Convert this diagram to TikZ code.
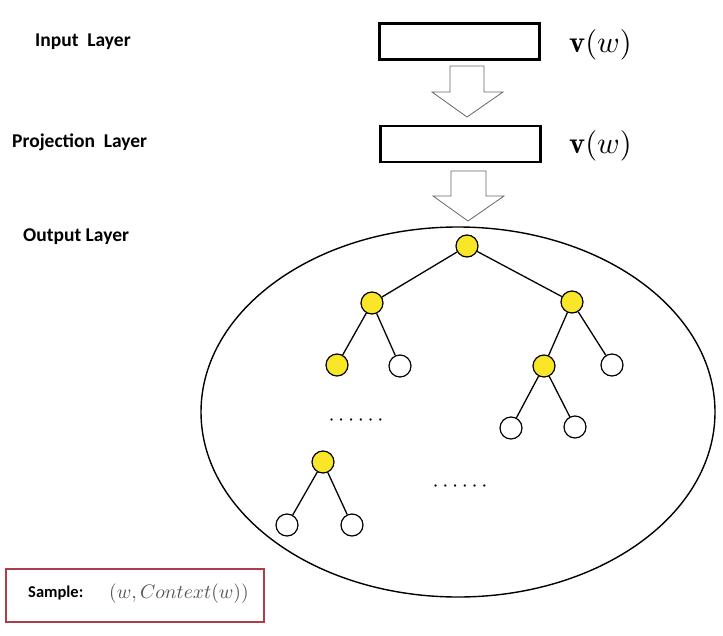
\documentclass[tikz,border=0pt]{standalone}
\usepackage{graphicx}
\usepackage{fontspec}
\setsansfont{Carlito}
\usetikzlibrary{calc}
\definecolor{nodeyellow}{RGB}{250,230,40}
\definecolor{samplered}{RGB}{175,60,75}
\definecolor{mathgray}{RGB}{85,85,85}
\begin{document}
\begin{tikzpicture}[x=1pt,y=-1pt,
  layerbox/.style={draw,line width=2.6pt,minimum width=160pt,minimum height=36pt,inner sep=0pt},
  lbl/.style={font=\sffamily\bfseries\fontsize{19.5}{22}\selectfont,inner sep=0pt},
  vlbl/.style={inner sep=0pt},
  yn/.style={circle,draw,line width=1.2pt,fill=nodeyellow,minimum size=22pt,inner sep=0pt},
  wn/.style={circle,draw,line width=1.2pt,fill=white,minimum size=22pt,inner sep=0pt},
  edge/.style={line width=1.3pt},
  dotsl/.style={inner sep=0pt},
  blockarrow/.style={draw=black!60,line width=0.8pt,fill=white}]
\useasboundingbox (0,0) rectangle (723,635);
% labels
\node[lbl,anchor=west] (il) at (35,42) {Input\ \ Layer};
\node[lbl,anchor=west] (pl) at (12,142) {Projection\ \ Layer};
\node[lbl,anchor=west] (ol) at (23,237) {Output Layer};
% boxes
\node[layerbox] (ib) at (459.5,41.5) {};
\node[layerbox] (pb) at (460.5,144) {};
\node[vlbl,anchor=west] (iv) at (569,45) {\scalebox{3.05}{$\mathbf{v}(w)$}};
\node[vlbl,anchor=west] (pv) at (569,146) {\scalebox{3.05}{$\mathbf{v}(w)$}};
% block arrows
\draw[blockarrow] (450,66) -- (484,66) -- (484,92) -- (503,92) -- (467,117) -- (432,92) -- (450,92) -- cycle;
\draw[blockarrow] (451,171) -- (486,171) -- (486,196) -- (504,196) -- (468,221) -- (433,196) -- (451,196) -- cycle;
% ellipse
\draw[line width=1.4pt] (458,412) ellipse [x radius=257, y radius=185];
% tree nodes
\node[yn] (r) at (467,246) {};
\node[yn] (a) at (372,303) {};
\node[yn] (b) at (572,302) {};
\node[yn] (aa) at (337,365) {};
\node[wn] (ab) at (400,366) {};
\node[yn] (ba) at (544,366) {};
\node[wn] (bb) at (612,365) {};
\node[wn] (baa) at (511,428) {};
\node[wn] (bab) at (575,427) {};
\node[yn] (c) at (323,462) {};
\node[wn] (ca) at (287,525) {};
\node[wn] (cb) at (352,525) {};
\draw[edge] (r) -- (a);
\draw[edge] (r) -- (b);
\draw[edge] (a) -- (aa);
\draw[edge] (a) -- (ab);
\draw[edge] (b) -- (ba);
\draw[edge] (b) -- (bb);
\draw[edge] (ba) -- (baa);
\draw[edge] (ba) -- (bab);
\draw[edge] (c) -- (ca);
\draw[edge] (c) -- (cb);
% dots
\node[dotsl] (d1) at (356,421) {\scalebox{2.2}{$\cdots\cdots$}};
\node[dotsl] (d2) at (460,487) {\scalebox{2.2}{$\cdots\cdots$}};
% sample box
\node[draw=samplered,line width=2.6pt,minimum width=258pt,minimum height=53pt,inner sep=0pt] (sb) at (135,595.5) {};
\node[lbl,anchor=west,font=\sffamily\bfseries\fontsize{16.5}{18}\selectfont] (st) at (28,593) {Sample:};
\node[anchor=west,inner sep=0pt,text=mathgray] (sm) at (109,594) {\scalebox{1.96}{$(w,Context(w))$}};
\end{tikzpicture}
\end{document}
